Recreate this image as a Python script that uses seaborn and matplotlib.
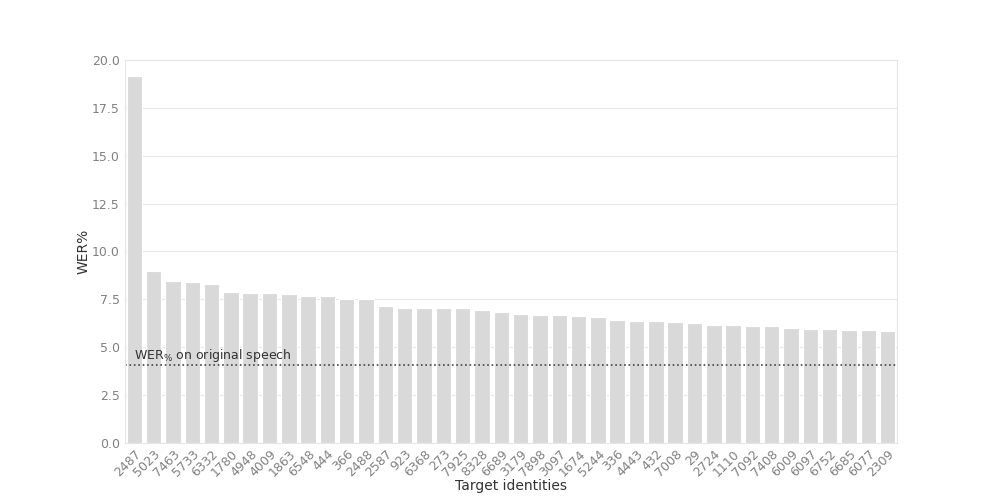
import numpy as np
import pandas as pd
import matplotlib
matplotlib.use("Agg")
import matplotlib.pyplot as plt
import seaborn as sns

# ------------------------DATA-------------------------

speakers = ["2487", "5023", "7463", "5733", "6332", "1780", "4948", "4009", "1863", "6548",
            "444", "366", "2488", "2587", "923", "6368", "273", "7925", "8328", "6689",
            "3179", "7898", "3097", "1674", "5244", "336", "4443", "432", "7008", "29",
            "2724", "1110", "7092", "7408", "6009", "6097", "6752", "6685", "6077", "2309"]
wer = [19.15, 8.98, 8.45, 8.40, 8.30, 7.88, 7.82, 7.82, 7.77, 7.68,
       7.67, 7.51, 7.50, 7.15, 7.05, 7.04, 7.03, 7.03, 6.94, 6.83,
       6.72, 6.71, 6.68, 6.61, 6.56, 6.42, 6.40, 6.35, 6.30, 6.26,
       6.16, 6.15, 6.10, 6.09, 5.99, 5.98, 5.94, 5.93, 5.92, 5.83]
wer_original = 4.1

df = pd.DataFrame({"speaker": speakers, "wer": wer})

# ------------------------PLOT-------------------------

sns.set_style("whitegrid", {"axes.edgecolor": "#e6e6e6", "grid.color": "#e6e6e6"})

fig, ax = plt.subplots(figsize=(9.97, 4.98), dpi=100)
sns.barplot(data=df, x="speaker", y="wer", color="#d9d9d9", saturation=1,
            edgecolor="white", linewidth=0.8, ax=ax)

ax.axhline(wer_original, color="#444444", linestyle=":", linewidth=1.2)
ax.text(0.0, wer_original + 0.3, r"WER$_{\%}$ on original speech", fontsize=9, color="#333333")

ax.set_ylim(0, 20)
ax.set_yticks(np.arange(0, 20.1, 2.5))
ax.set_xlim(-0.5, len(speakers) - 0.5)
ax.xaxis.grid(False)
ax.set_xlabel("Target identities", fontsize=10, color="#333333", labelpad=0)
ax.set_ylabel("WER%", fontsize=10, color="#333333", labelpad=1)
ax.tick_params(axis="both", colors="#808080", labelsize=9, length=0)
ax.tick_params(axis="x", pad=3)
plt.setp(ax.get_xticklabels(), rotation=45, ha="right", rotation_mode="anchor")

plt.savefig("out.png")
